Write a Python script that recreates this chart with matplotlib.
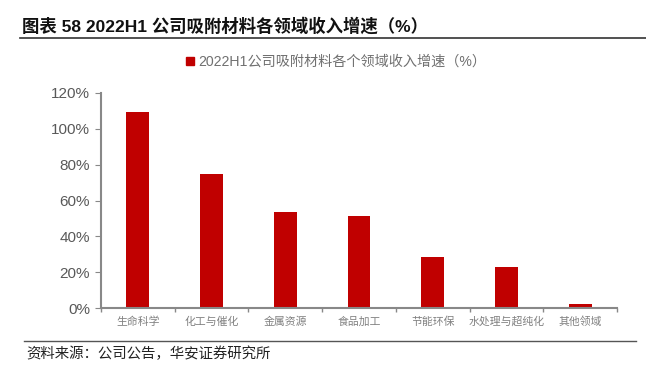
import matplotlib
matplotlib.use("Agg")
import matplotlib.pyplot as plt
from matplotlib.ticker import PercentFormatter
from matplotlib.lines import Line2D

plt.rcParams['font.family'] = ['Liberation Sans', 'Noto Sans CJK SC', 'DejaVu Sans']

categories = ["生命科学", "化工与催化", "金属资源", "食品加工", "节能环保", "水处理与超纯化", "其他领域"]
growth = [109.4, 74.8, 53.4, 51.3, 28.6, 22.9, 2.2]
yticks = [0, 20, 40, 60, 80, 100, 120]
series_name = "2022H1公司吸附材料各个领域收入增速（%）"
title = "图表 58 2022H1 公司吸附材料各领域收入增速（%）"
source = "资料来源：公司公告，华安证券研究所"

W, H = 646, 367
fig = plt.figure(figsize=(W/100, H/100), dpi=100)
ax = fig.add_axes([101/W, 1-308/H, (617-101)/W, (308-93)/H])

x = range(len(categories))
ax.bar(x, growth, width=0.31, color="#C00000", label=series_name)
ax.set_xlim(-0.5, len(categories)-0.5)
ax.set_ylim(0, 120)
ax.set_yticks(yticks)
ax.yaxis.set_major_formatter(PercentFormatter(decimals=0))
ax.set_xticks([i - 0.5 for i in range(len(categories)+1)], minor=False)
ax.set_xticklabels([])
ax.set_xticks(list(x), minor=True)
ax.set_xticklabels(categories, minor=True, fontsize=7.8, color="#808080",
                   family=['Noto Sans CJK SC'])
ax.tick_params(axis='x', which='minor', length=0, pad=6)
ax.tick_params(axis='x', which='major', length=3, direction='out', color="#888888", width=1)
ax.tick_params(axis='y', length=4, direction='out', color="#888888", labelsize=11,
               labelcolor="#595959", pad=4)
for s in ['top', 'right']:
    ax.spines[s].set_visible(False)
for s in ['left', 'bottom']:
    ax.spines[s].set_color("#888888")
    ax.spines[s].set_linewidth(1.5)

leg = fig.legend(handles=[plt.Rectangle((0, 0), 1, 1, color="#C00000")], labels=[series_name],
                 loc='center', bbox_to_anchor=(336/W, 1-62/H), frameon=False,
                 prop={'family': ['Liberation Sans', 'Noto Sans CJK SC'], 'size': 10.2},
                 handlelength=0.55, handleheight=0.55, handletextpad=0.3)
for t in leg.get_texts():
    t.set_color("#707070")

fig.text(22/W, 1-26/H, title, fontsize=12.5, fontweight='bold', va='center', ha='left',
         family=['Liberation Sans', 'Noto Sans CJK SC'], color="#111111")
fig.add_artist(Line2D([20/W, 1.0], [1-38/H, 1-38/H], color="#333333", lw=1.2))
fig.add_artist(Line2D([24/W, 636/W], [1-341/H, 1-341/H], color="#555555", lw=1.0))
fig.text(26/W, 1-354/H, source, fontsize=10.4, va='center', ha='left',
         family=['Noto Sans CJK SC'], color="#222222")

fig.savefig("out.png", dpi=100)
